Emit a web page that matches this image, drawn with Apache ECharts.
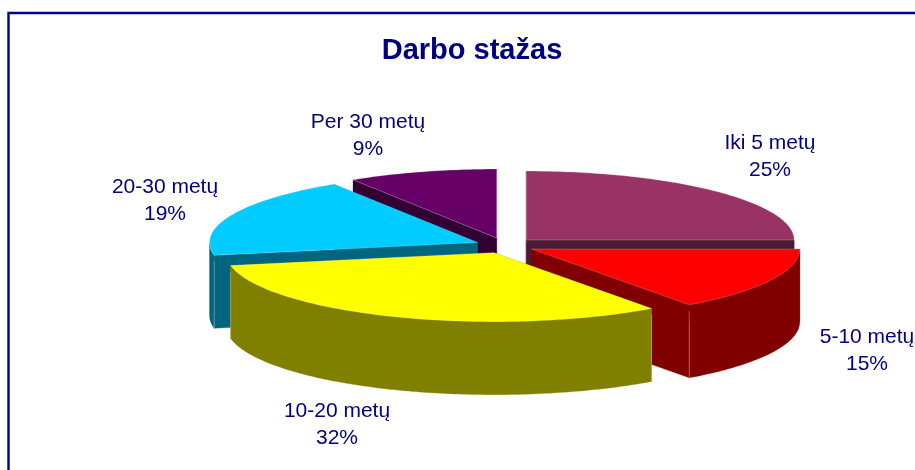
<!DOCTYPE html>
<html>
<head>
<meta charset="utf-8">
<style>html,body{margin:0;padding:0;background:#fff}#c{width:915px;height:470px}</style>
<script src="https://cdn.jsdelivr.net/npm/echarts@6/dist/echarts.min.js"></script>
</head>
<body>
<div id="c"></div>
<script>
const titleText = 'Darbo stažas';
const categories = ['Iki 5 metų', '5-10 metų', '10-20 metų', '20-30 metų', 'Per 30 metų'];
const values = [25, 15, 32, 19, 9];
const topColors = ['#993366', '#FF0000', '#FFFF00', '#00CCFF', '#660066'];
const sideColors = ['#4D1A33', '#800000', '#808000', '#006680', '#330033'];
const labelCenters = [[770, 156.5], [867, 350.5], [337, 424.5], [165, 200.5], [368, 135.5]];

const CX = 505, CY = 245.5, RX = 268, RY = 69, DEPTH = 73, EXPLODE = 30;
const INK = '#000080', FONT = '"Liberation Sans", Arial, sans-serif';

const total = values.reduce((a, b) => a + b, 0);
const toRad = d => d * Math.PI / 180;
let acc = 0;
const slices = values.map((v, i) => {
  const start = acc / total * 360;
  acc += v;
  const end = acc / total * 360;
  const mid = toRad((start + end) / 2);
  return {
    i, start, end,
    ax: CX + EXPLODE * Math.sin(mid),
    ay: CY - EXPLODE * (RY / RX) * Math.cos(mid)
  };
});
// painter's order: the slices furthest back first
const order = slices.slice().sort((a, b) => a.ay - b.ay);

function pt(s, deg, drop) {
  const t = toRad(deg);
  return [s.ax + RX * Math.sin(t), s.ay - RY * Math.cos(t) + (drop || 0)];
}
function arc(s, from, to, drop) {
  const n = Math.max(2, Math.ceil(Math.abs(to - from) / 1));
  const out = [];
  for (let k = 0; k <= n; k++) out.push(pt(s, from + (to - from) * k / n, drop));
  return out;
}
function poly(points, fill, stroke) {
  return {
    type: 'polygon', shape: { points },
    style: { fill, stroke: stroke || fill, lineWidth: stroke ? 0.7 : 0.3 }
  };
}
function radialWall(s, deg, color) {
  const p = pt(s, deg);
  return poly([[s.ax, s.ay], p, [p[0], p[1] + DEPTH], [s.ax, s.ay + DEPTH]], color);
}
function seam(x, y) {
  return {
    type: 'line', shape: { x1: x, y1: y + 6, x2: x, y2: y + DEPTH },
    style: { stroke: 'rgba(255,210,220,0.35)', lineWidth: 1 }
  };
}
function renderSlice(params) {
  const s = order[params.dataIndex];
  const side = sideColors[s.i], kids = [];
  kids.push(radialWall(s, s.start, side), radialWall(s, s.end, side));
  // outer rim: only the part of the arc that faces the viewer
  const a = Math.max(s.start, 90), b = Math.min(s.end, 270);
  if (b > a) {
    kids.push(poly(arc(s, a, b, 0).concat(arc(s, b, a, DEPTH)), side));
    if (a > 90) { const p = pt(s, a); kids.push(seam(p[0], p[1])); }
    if (b < 270) { const p = pt(s, b); kids.push(seam(p[0], p[1])); }
  }
  kids.push(poly([[s.ax, s.ay]].concat(arc(s, s.start, s.end, 0)), topColors[s.i], 'rgba(255,255,255,0.3)'));
  return { type: 'group', children: kids };
}
function renderLabel(params) {
  const i = params.dataIndex;
  return {
    type: 'text',
    style: {
      text: categories[i] + '\n' + Math.round(values[i] / total * 100) + '%',
      x: labelCenters[i][0], y: labelCenters[i][1],
      align: 'center', verticalAlign: 'middle',
      fill: INK, font: '21px ' + FONT, lineHeight: 27
    }
  };
}

const chart = echarts.init(document.getElementById('c'), null, { renderer: 'canvas' });
chart.setOption({
  animation: false,
  backgroundColor: '#fff',
  title: {
    text: titleText, left: 467, top: 31, textAlign: 'center',
    textStyle: { color: INK, fontFamily: FONT, fontWeight: 'bold', fontSize: 29 }
  },
  graphic: [
    { type: 'polyline', z: 0, shape: { points: [[8.5, 480], [8.5, 13], [930, 13]] },
      style: { stroke: '#000090', lineWidth: 2.4, fill: null } }
  ],
  series: [
    { type: 'custom', name: 'slices', coordinateSystem: 'none', renderItem: renderSlice,
      data: order.map(s => values[s.i]), silent: true, z: 2 },
    { type: 'custom', name: 'labels', coordinateSystem: 'none', renderItem: renderLabel,
      data: categories.map((c, i) => ({ name: c, value: values[i] })), silent: true, z: 3 }
  ]
});
</script>
</body>
</html>
